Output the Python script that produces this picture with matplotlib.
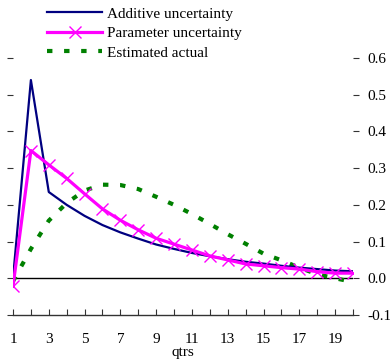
import matplotlib
matplotlib.use("Agg")
import matplotlib.pyplot as plt

plt.rcParams['font.family'] = ['Liberation Serif', 'DejaVu Serif']
plt.rcParams['axes.unicode_minus'] = False

quarters = list(range(1, 21))
additive = [0.0, 0.54, 0.235, 0.20, 0.17, 0.145, 0.125, 0.108, 0.092, 0.080,
            0.069, 0.060, 0.052, 0.045, 0.040, 0.034, 0.029, 0.025, 0.021, 0.019]
parameter = [-0.022, 0.348, 0.309, 0.272, 0.230, 0.189, 0.158, 0.132, 0.109, 0.093,
             0.077, 0.061, 0.050, 0.039, 0.034, 0.029, 0.025, 0.018, 0.014, 0.014]
estimated = [-0.008, 0.080, 0.157, 0.205, 0.239, 0.255, 0.254, 0.243, 0.222, 0.200,
             0.175, 0.148, 0.120, 0.094, 0.067, 0.049, 0.029, 0.011, 0.0, -0.01]
xtick_labels = ['1', '', '3', '', '5', '', '7', '', '9', '', '11', '', '13', '', '15', '', '17', '', '19', '']
ytick_labels = ['-0.1', '0.0', '0.1', '0.2', '0.3', '0.4', '0.5', '0.6']
yticks = [-0.1, 0.0, 0.1, 0.2, 0.3, 0.4, 0.5, 0.6]

fig = plt.figure(figsize=(3.9, 3.6), dpi=100)
ax = fig.add_axes([13/390, 1-315/360, (353-13)/390, (315-58)/360])

ax.axhline(0, color='black', lw=1.0, zorder=1)
l1, = ax.plot(quarters, additive, color='#000080', lw=1.6, label='Additive uncertainty', zorder=3)
l2, = ax.plot(quarters, parameter, color='#ff00ff', lw=2.3, marker='x', ms=8, mew=1.0,
              label='Parameter uncertainty', zorder=4)
l3, = ax.plot(quarters, estimated, color='#008000', lw=3.0, dashes=(1.3, 2.8),
              dash_capstyle='butt', label='Estimated actual', zorder=2)

ax.set_xlim(1, 20)
ax.set_ylim(-0.1, 0.6)
ax.set_xticks(quarters)
ax.set_xticklabels(xtick_labels, fontsize=11)
ax.set_yticks(yticks)
ax.yaxis.tick_right()
ax.set_yticklabels(ytick_labels, fontsize=11)
ax.tick_params(axis='y', which='both', right=True, left=True, direction='out', length=4,
               width=0.8, color='#333333', pad=6)
ax.tick_params(axis='x', direction='in', length=4, width=0.8, color='#333333', pad=13)
for s in ['top', 'left', 'right']:
    ax.spines[s].set_visible(False)
ax.spines['bottom'].set_color('#333333')
ax.spines['bottom'].set_linewidth(1.0)
ax.set_xlabel('qtrs', fontsize=11, labelpad=0)
ax.patch.set_alpha(0)

fig.legend(handles=[l1, l2, l3], loc='upper left', bbox_to_anchor=(47/390, 1-7/360),
           frameon=False, fontsize=11, handlelength=3.6, handletextpad=0.3,
           labelspacing=0.38, borderpad=0, borderaxespad=0, numpoints=1)

fig.savefig('out.png', dpi=100)
